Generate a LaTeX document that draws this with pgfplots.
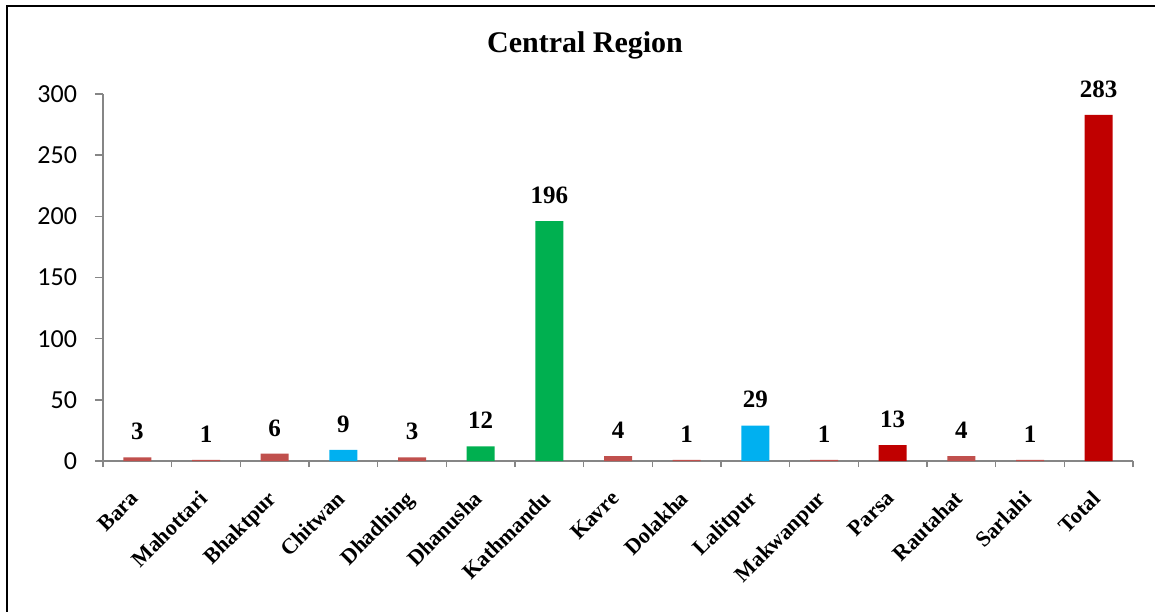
\documentclass[border=0pt]{standalone}
\usepackage{pgfplots}
\pgfplotsset{compat=1.18}
\usepackage{fontspec}
\setmainfont{Liberation Serif}
\newfontfamily\carlito{Carlito}
\definecolor{cRed}{HTML}{C0504D}
\definecolor{cBlue}{HTML}{00B0F0}
\definecolor{cGreen}{HTML}{00B050}
\definecolor{cDark}{HTML}{C00000}
\definecolor{axgray}{HTML}{868686}
\begin{document}
\begin{tikzpicture}
\useasboundingbox (0,0) rectangle (577.5pt,305.5pt);
\draw[black,line width=1.3pt] (3.5pt,-5pt) -- (3.5pt,302.5pt) -- (600pt,302.5pt);
\node[anchor=base,font=\fontsize{15}{17}\selectfont\bfseries] at (292.5pt,279pt) {Central Region};
\begin{axis}[
  at={(51.5pt,75pt)}, anchor=south west,
  scale only axis, width=515pt, height=183.5pt,
  xmin=0.5, xmax=15.5, ymin=0, ymax=300,
  axis x line=bottom, axis y line=left,
  axis line style={-, axgray, line width=0.8pt},
  ytick={0,50,...,300},
  yticklabel style={font=\fontsize{13}{15}\selectfont\carlito, xshift=-5.5pt},
  /pgf/number format/assume math mode=true,
  tick align=outside,
  major tick length=4pt, minor tick length=3pt,
  tick style={axgray, line width=0.8pt},
  xtick={1,...,15},
  major x tick style={draw=none},
  minor xtick={0.5,1.5,...,15.5},
  xticklabels={Bara,Mahottari,Bhaktpur,Chitwan,Dhadhing,Dhanusha,Kathmandu,Kavre,Dolakha,Lalitpur,Makwanpur,Parsa,Rautahat,Sarlahi,Total},
  xticklabel style={xshift=-4pt, yshift=-10pt, rotate=45, anchor=north east, inner sep=0pt, font=\fontsize{11}{13}\selectfont\bfseries},
  ybar, bar width=14pt, bar shift=0pt,
  nodes near coords,
  every node near coord/.append style={font=\fontsize{12.5}{14}\selectfont\bfseries, inner sep=0pt, yshift=8.5pt, black},
  clip=false,
]
\addplot[draw=none, fill=cRed] coordinates {(1,3) (2,1) (3,6) (5,3) (8,4) (9,1) (11,1) (13,4) (14,1)};
\addplot[draw=none, fill=cBlue] coordinates {(4,9) (10,29)};
\addplot[draw=none, fill=cGreen] coordinates {(6,12) (7,196)};
\addplot[draw=none, fill=cDark] coordinates {(12,13) (15,283)};
\end{axis}
\end{tikzpicture}
\end{document}
